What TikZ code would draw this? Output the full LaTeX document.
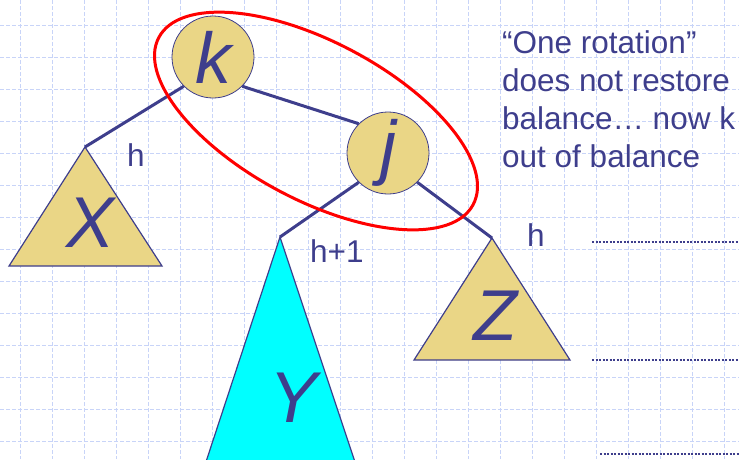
\documentclass[tikz,border=0pt]{standalone}
\usepackage{fontspec}
\setmainfont{Liberation Sans}
\usetikzlibrary{positioning}
\definecolor{ink}{RGB}{62,62,140}
\definecolor{sand}{RGB}{234,214,134}
\definecolor{aqua}{RGB}{0,255,255}
\definecolor{gridblue}{RGB}{200,212,248}

\begin{document}
\begin{tikzpicture}[x=1pt, y=-1pt,
  key/.style={circle, draw=ink, line width=0.8pt, fill=sand, minimum size=82pt,
    inner sep=0pt, text=ink, font=\fontsize{72}{72}\selectfont\itshape},
  sub/.style={draw=ink, line width=1.2pt},
  big/.style={text=ink, font=\fontsize{72}{72}\selectfont\itshape,
    inner sep=0pt, anchor=base},
  lbl/.style={text=ink, font=\fontsize{31.5}{38.3}\selectfont, inner sep=0pt},
  e/.style={draw=ink, line width=3pt},
  rim/.style={draw=red, line width=3pt},
  guide/.style={draw=ink, line width=2pt, dash pattern=on 2pt off 1.5pt},
  gridline/.style={draw=gridblue, line width=1pt, dash pattern=on 4pt off 2pt},
]
\useasboundingbox (0,0) rectangle (739,459);
\clip (0,0) rectangle (739,459);
% background grid
\foreach \gx in {20,52,...,724} \draw[gridline] (\gx,0) -- (\gx,459);
\foreach \gy in {25,57,...,441} \draw[gridline] (0,\gy) -- (739,\gy);
% rotated pair
\node[key] (k) at (213,57) {k};
\node[key] (j) at (388,153) {j};
% subtree tops
\coordinate (xtop) at (85,147);
\coordinate (ytop) at (280,237);
\coordinate (ztop) at (492,238);
% subtrees
\filldraw[sub, fill=sand] (xtop) -- ++(-76,119) -- ++(153,0) -- cycle;
\filldraw[sub, fill=aqua] (ytop) -- ++(-80,243) -- ++(161,0) -- cycle;
\filldraw[sub, fill=sand] (ztop) -- ++(-78,122) -- ++(156,0) -- cycle;
\node[big] (xl) at (91,247) {X};
\node[big] (yl) at (294,422) {Y};
\node[big] (zl) at (495,340) {Z};
% tree edges
\draw[e] (k.south west) -- (xtop);
\draw[e] (k.south east) -- (j.north west);
\draw[e] (j.south west) -- (ytop);
\draw[e] (j.south east) -- (ztop);
% heights
\node[lbl, anchor=base west] (hx) at (127,166) {h};
\node[lbl, anchor=base west] (hy) at (310,262) {h+1};
\node[lbl, anchor=base west] (hz) at (527,246) {h};
% single rotation ring
\draw[rim, rotate around={-28:(316,121)}] (316,121) ellipse [x radius=178, y radius=79];
% note
\node[lbl, anchor=north west, align=left] (note) at (502,30)
  {“One rotation”\\does not restore\\balance… now k\\out of balance};
\draw[guide] (592,242) -- (739,242);
\draw[guide] (592,360) -- (739,360);
\draw[guide] (600,454) -- (739,454);
\end{tikzpicture}
\end{document}
